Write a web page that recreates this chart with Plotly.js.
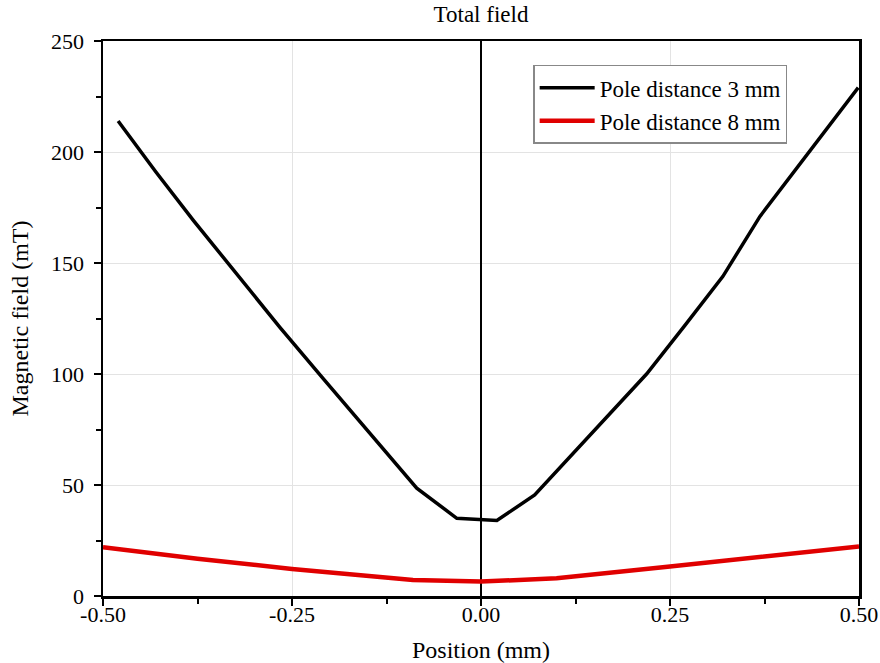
<!DOCTYPE html>
<html>
<head>
<meta charset="utf-8">
<script src="https://cdn.plot.ly/plotly-3.0.1.min.js"></script>
<style>html,body{margin:0;padding:0;background:#fff;}#chart{width:880px;height:663px;}</style>
</head>
<body>
<div id="chart"></div>
<script>
const pos3 = [-0.48, -0.43, -0.38, -0.32, -0.266, -0.209, -0.15, -0.085, -0.032, 0.021, 0.071, 0.12, 0.17, 0.219, 0.27, 0.32, 0.369, 0.43, 0.499];
const field3 = [214, 191, 169, 144, 121, 98, 74.5, 48.6, 35, 34, 45.5, 63.5, 82, 100, 122, 144, 171, 198, 229];
const pos8 = [-0.5, -0.375, -0.25, -0.125, -0.09, 0, 0.1, 0.25, 0.375, 0.5];
const field8 = [22, 16.8, 12.2, 8, 7.2, 6.5, 8, 13.3, 17.6, 22.3];
const xTickVals = [-0.5, -0.25, 0, 0.25, 0.5];
const xTickText = ["-0.50", "-0.25", "0.00", "0.25", "0.50"];
const yTickVals = [0, 50, 100, 150, 200, 250];
const seriesNames = ["Pole distance 3 mm", "Pole distance 8 mm"];

const font = "Liberation Serif, Times New Roman, serif";
const traces = [
  {x: pos3, y: field3, name: seriesNames[0], mode: "lines", line: {color: "#000000", width: 3.5}},
  {x: pos8, y: field8, name: seriesNames[1], mode: "lines", line: {color: "#e00000", width: 4.5}}
];
const layout = {
  width: 880, height: 663,
  margin: {l: 103, r: 21, t: 41, b: 67},
  paper_bgcolor: "#fff", plot_bgcolor: "#fff",
  font: {family: font, color: "#000", size: 22},
  title: {text: "Total field", x: 0.5, xref: "paper", xanchor: "center", y: 0.979, yanchor: "middle", font: {family: font, size: 23, color: "#000"}},
  xaxis: {
    range: [-0.5, 0.5], tickvals: xTickVals, ticktext: xTickText,
    ticks: "outside", ticklen: 7, tickwidth: 2, tickcolor: "#000",
    ticklabelstandoff: -10,
    showline: true, linecolor: "#000", linewidth: 2.5, mirror: true,
    showgrid: true, gridcolor: "#e3e3e3", gridwidth: 1,
    zeroline: true, zerolinecolor: "#000", zerolinewidth: 2,
    minor: {dtick: 0.125, ticks: "outside", ticklen: 5, tickwidth: 2, tickcolor: "#000", showgrid: false},
    tickfont: {family: font, size: 22, color: "#000"},
    title: {text: "Position (mm)", font: {family: font, size: 24, color: "#000"}, standoff: 16}
  },
  yaxis: {
    range: [0, 250], tickvals: yTickVals,
    ticks: "outside", ticklen: 7, tickwidth: 2, tickcolor: "#000",
    ticklabelstandoff: 5,
    showline: true, linecolor: "#000", linewidth: 2.5, mirror: true,
    showgrid: true, gridcolor: "#e3e3e3", gridwidth: 1,
    zeroline: false,
    minor: {dtick: 25, ticks: "outside", ticklen: 5, tickwidth: 2, tickcolor: "#000", showgrid: false},
    tickfont: {family: font, size: 22, color: "#000"},
    title: {text: "Magnetic field (mT)", font: {family: font, size: 24, color: "#000"}, standoff: 16}
  },
  showlegend: true,
  legend: {
    x: 0.569, y: 0.957, xanchor: "left", yanchor: "top",
    bgcolor: "#fff", bordercolor: "#888", borderwidth: 1.5,
    font: {family: font, size: 23, color: "#000"},
    itemwidth: 55, tracegroupgap: 0
  }
};
Plotly.newPlot("chart", traces, layout, {displayModeBar: false, staticPlot: true});
</script>
</body>
</html>
